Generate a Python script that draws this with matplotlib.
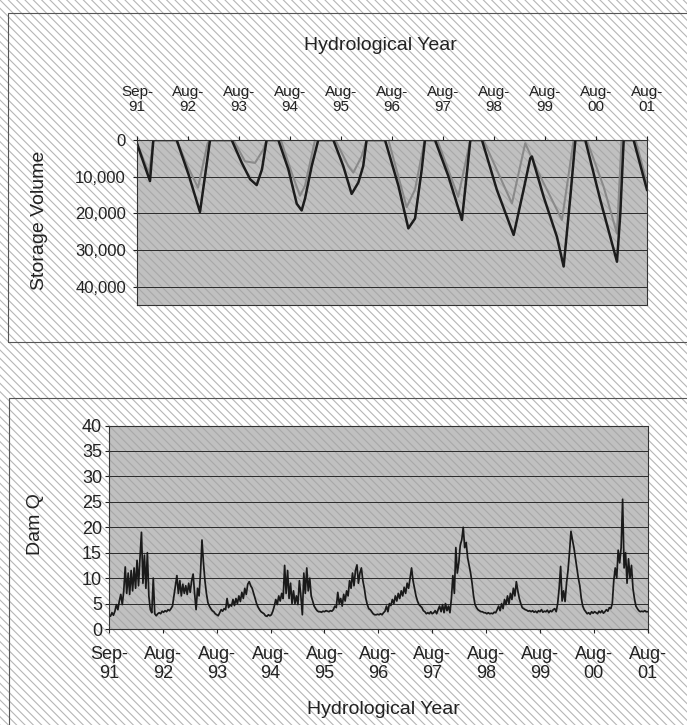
import numpy as np
import matplotlib.pyplot as plt
from matplotlib.patches import Rectangle

plt.rcParams['font.family'] = ['Liberation Sans', 'DejaVu Sans']
plt.rcParams['hatch.linewidth'] = 0.8

# x axis: days since 1 Sep 1991, labels every 365 days
tick_days = [0, 365, 730, 1095, 1460, 1825, 2190, 2555, 2920, 3285, 3650]
tick_labels = ['Sep-\n91', 'Aug-\n92', 'Aug-\n93', 'Aug-\n94', 'Aug-\n95', 'Aug-\n96',
               'Aug-\n97', 'Aug-\n98', 'Aug-\n99', 'Aug-\n00', 'Aug-\n01']

# storage volume (dark series)
dark_day = [0, 93, 117, 284, 370, 451, 523, 678, 750, 810, 857, 895, 928,
            1012, 1084, 1144, 1179, 1203, 1251, 1298, 1406, 1477, 1537, 1585, 1620, 1644,
            1776, 1872, 1943, 1991, 2039, 2062, 2134, 2229, 2327, 2387,
            2470, 2577, 2697, 2768, 2816, 2828, 2912, 3007, 3055, 3103, 3139,
            3210, 3318, 3437, 3461, 3485, 3556, 3652]
dark_vol = [1000, 11200, 0, 0, 9500, 19650, 0, 0, 6200, 10700, 12300, 8000, 0,
            0, 8000, 17400, 19200, 16000, 7100, 0, 0, 7100, 14700, 11600, 7100, 0,
            0, 12500, 24100, 21400, 8000, 0, 0, 9800, 21800, 0,
            0, 13600, 25900, 13600, 5000, 4500, 15500, 26400, 34500, 15500, 0,
            0, 16400, 33200, 20000, 0, 0, 13600]

# storage volume (grey series)
gray_day = [0, 85, 100, 117, 284, 360, 437, 505, 520, 690, 773, 845, 903, 928,
            1030, 1107, 1167, 1203, 1275, 1420, 1513, 1549, 1608, 1644,
            1800, 1931, 1991, 2060, 2150, 2300, 2387, 2480, 2685, 2780,
            2889, 3043, 3127, 3220, 3341, 3437, 3470, 3570, 3652]
gray_vol = [800, 9000, 5000, 0, 0, 7000, 13000, 1000, 0, 0, 5800, 6250, 2700, 0,
            0, 8900, 15200, 12500, 0, 0, 7100, 8900, 4500, 0,
            0, 18300, 13500, 0, 0, 15500, 0, 0, 17300, 900,
            10000, 21800, 0, 0, 12700, 25500, 0, 0, 11800]

# dam flow, one reading every 10 days
q_step = 10
q_dam = [
    2.8, 2.5, 3.2, 2.7, 3.5, 4.8, 3.8, 5.5, 6.8, 4.8,
    7.5, 12.2, 7.0, 11.0, 6.8, 11.5, 7.5, 12.0, 8.0, 13.5,
    8.5, 14.0, 19.0, 9.0, 14.5, 8.0, 15.0, 6.5, 3.8, 3.2,
    10.0, 3.0, 2.6, 3.0, 3.2, 3.0, 3.5, 3.3, 3.6, 3.4,
    3.8, 3.6, 4.0, 4.5, 6.5, 8.5, 10.5, 7.0, 9.5, 6.5,
    8.8, 7.0, 8.5, 6.8, 9.0, 7.2, 9.5, 10.8, 7.0, 3.8,
    8.0, 6.5, 11.0, 17.5, 13.0, 9.5, 7.0, 5.2, 4.5, 4.0,
    3.6, 3.4, 3.0, 2.8, 2.6, 3.2, 3.8, 3.5, 4.0, 3.8,
    6.0, 4.2, 4.8, 4.5, 5.8, 4.6, 6.0, 5.0, 6.5, 5.4,
    7.2, 6.0, 8.0, 6.8, 8.8, 9.3, 8.5, 8.0, 7.0, 6.0,
    5.0, 4.3, 3.8, 3.4, 3.2, 3.0, 2.6, 2.5, 2.8, 2.6,
    2.8, 3.5, 4.5, 5.8, 4.8, 6.5, 5.5, 7.0, 6.0, 12.5,
    7.0, 11.5, 6.0, 9.0, 5.0, 7.5, 5.0, 6.5, 4.8, 9.5,
    6.5, 2.8, 11.0, 7.0, 12.0, 7.5, 10.0, 6.5, 5.5, 4.5,
    4.0, 3.6, 3.4, 3.4, 3.3, 3.5, 3.4, 3.6, 3.5, 3.4,
    3.6, 3.5, 3.8, 4.5, 4.2, 7.2, 5.0, 6.0, 4.5, 6.8,
    5.5, 7.5, 6.5, 9.5, 8.0, 11.0, 8.5, 11.5, 12.6, 9.0,
    11.0, 12.0, 9.5, 8.0, 6.0, 4.8, 4.0, 3.8, 3.4, 3.0,
    2.8, 2.8, 2.9, 2.8, 3.0, 2.8, 3.2, 3.5, 4.5, 3.4,
    5.0, 4.6, 5.8, 5.0, 6.5, 5.5, 7.0, 6.0, 7.5, 6.5,
    8.2, 7.0, 9.0, 8.0, 10.0, 12.0, 9.5, 8.0, 6.5, 5.5,
    4.8, 4.5, 4.2, 3.6, 3.4, 3.0, 3.2, 3.0, 3.4, 3.0,
    3.2, 3.6, 3.0, 3.8, 4.5, 3.4, 4.8, 3.2, 5.0, 3.6,
    4.5, 3.2, 6.0, 10.5, 7.0, 16.0, 11.0, 13.0, 16.5, 17.5,
    20.0, 16.0, 17.0, 14.0, 12.5, 11.0, 9.0, 6.5, 4.8, 4.2,
    3.8, 3.6, 3.4, 3.4, 3.2, 3.2, 3.0, 3.2, 3.0, 3.1,
    3.0, 3.3, 3.2, 3.8, 4.5, 3.6, 5.0, 4.0, 5.8, 4.8,
    6.5, 5.0, 7.0, 5.8, 8.0, 6.5, 9.3, 7.5, 6.0, 5.0,
    4.2, 4.0, 3.8, 3.7, 3.5, 3.6, 3.4, 3.6, 3.3, 3.5,
    3.2, 3.6, 3.4, 3.8, 3.3, 3.5, 3.4, 3.7, 3.2, 3.6,
    3.4, 3.8, 4.0, 3.4, 5.0, 8.0, 12.3, 5.5, 7.5, 5.4,
    9.0, 11.5, 15.0, 19.2, 17.5, 16.0, 14.0, 12.0, 10.0, 8.5,
    6.0, 4.5, 3.8, 3.4, 3.0, 3.2, 2.9, 3.4, 3.1, 3.4,
    3.2, 3.0, 3.5, 3.2, 3.6, 3.1, 3.4, 3.8, 3.5, 4.2,
    4.0, 5.0, 9.5, 12.0, 10.0, 15.5, 13.0, 16.0, 25.5, 12.0,
    15.0, 9.0, 13.8, 10.0, 12.5, 8.0, 6.0, 4.5, 4.0, 3.6,
    3.4, 3.5, 3.4, 3.6, 3.4, 3.4,
]
q_x = np.arange(len(q_dam)) * q_step

W, H = 687, 725
fig = plt.figure(figsize=(W / 100, H / 100), dpi=100)

# scanned paper look + chart frames
fig.patches.append(Rectangle((0, 0), 1, 1, transform=fig.transFigure, facecolor='white',
                             edgecolor='#b6b6b6', hatch='\\\\\\\\', linewidth=0, zorder=-10))
fig.patches.append(Rectangle((8 / W, 1 - 342 / H), 1, 329 / H, transform=fig.transFigure,
                             fill=False, edgecolor='#555555', linewidth=0.8, zorder=-5))
fig.patches.append(Rectangle((9 / W, -0.1), 1, 0.1 + 1 - 398 / H, transform=fig.transFigure,
                             fill=False, edgecolor='#555555', linewidth=0.8, zorder=-5))


def style_axes(ax):
    ax.set_facecolor('#c0c0c0')
    ax.patch.set_hatch('\\\\\\\\')
    ax.patch.set_edgecolor('#a8a8a8')
    ax.set_axisbelow(True)
    ax.yaxis.grid(True, color='#2a2a2a', linewidth=0.7)
    for s in ax.spines.values():
        s.set_color('#333333')
        s.set_linewidth(0.8)


# ---- top: storage volume ----
ax1 = fig.add_axes([137 / W, 1 - 305 / H, 510 / W, 165 / H])
style_axes(ax1)
ax1.plot(gray_day, gray_vol, color='#8a8a8a', linewidth=1.5)
ax1.plot(dark_day, dark_vol, color='#1c1c1c', linewidth=1.8)
ax1.set_xlim(0, 3652)
ax1.set_ylim(45000, 0)
ax1.set_yticks([0, 10000, 20000, 30000, 40000])
ax1.set_yticklabels(['0', '10,000', '20,000', '30,000', '40,000'])
ax1.xaxis.tick_top()
ax1.set_xticks(tick_days)
ax1.set_xticklabels(tick_labels, linespacing=1.1)
ax1.tick_params(axis='x', length=3, pad=16, labelsize=11, colors='#222222')
ax1.tick_params(axis='y', length=3, pad=5, labelsize=12, colors='#222222')

fig.text(380 / W, 1 - 45 / H, 'Hydrological Year', ha='center', va='center',
         fontsize=14, color='#222222')
fig.text(40 / W, 1 - 220 / H, 'Storage Volume', ha='center', va='center',
         rotation=90, fontsize=14, color='#222222')

# ---- bottom: dam flow ----
ax2 = fig.add_axes([109 / W, 1 - 629 / H, 539 / W, 203.5 / H])
style_axes(ax2)
ax2.plot(q_x, q_dam, color='#1a1a1a', linewidth=1.25)
ax2.set_xlim(0, 3652)
ax2.set_ylim(0, 40)
ax2.set_yticks(np.arange(0, 41, 5))
ax2.set_xticks(tick_days)
ax2.set_xticklabels(tick_labels)
ax2.tick_params(axis='x', length=3, pad=9, labelsize=13, colors='#222222')
ax2.tick_params(axis='y', length=3, pad=2, labelsize=13, colors='#222222')

fig.text(383 / W, 1 - 710 / H, 'Hydrological Year', ha='center', va='center',
         fontsize=14, color='#222222')
fig.text(36 / W, 1 - 524 / H, 'Dam Q', ha='center', va='center',
         rotation=90, fontsize=14, color='#222222')

fig.savefig('out.png', dpi=100)
